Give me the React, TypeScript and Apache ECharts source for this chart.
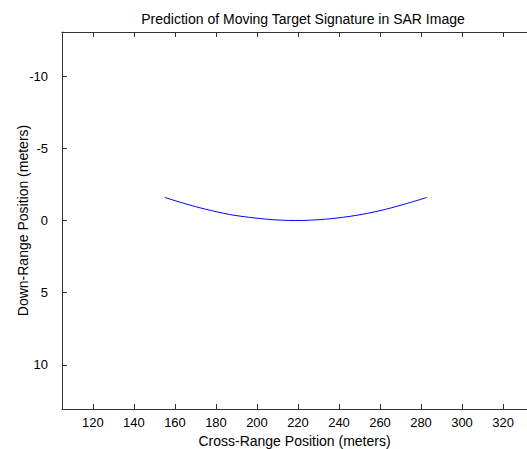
import React, { useEffect, useRef } from "react";
import * as echarts from "echarts";

const titleText = "Prediction of Moving Target Signature in SAR Image";
const xAxisName = "Cross-Range Position (meters)";
const yAxisName = "Down-Range Position (meters)";

const xTicks = [120, 140, 160, 180, 200, 220, 240, 260, 280, 300, 320];
const yTicks = [-10, -5, 0, 5, 10];

const crossRange = [155, 165, 175, 186.5, 194, 204, 212, 219, 226, 235.6, 247.8, 260, 271.2, 283];
const downRange = [-1.6, -1.16, -0.78, -0.42, -0.26, -0.1, -0.02, 0.0, -0.02, -0.12, -0.34, -0.68, -1.1, -1.6];

const FONT = "Liberation Sans, Arial, Helvetica, sans-serif";
const AXIS_COLOR = "#333";

export default function App() {
  const ref = useRef<HTMLDivElement>(null);
  useEffect(() => {
    if (!ref.current) return;
    const chart = echarts.init(ref.current, undefined, { renderer: "svg" });
    const data = crossRange.map((x, i) => [x, downRange[i]]);
    const tickCommon = { show: true, inside: true, length: 5, lineStyle: { color: AXIS_COLOR, width: 1 } };
    const lineCommon = { show: true, onZero: false, lineStyle: { color: AXIS_COLOR, width: 1 } };
    chart.setOption({
      animation: false,
      backgroundColor: "#fff",
      title: {
        text: titleText,
        left: 298,
        top: 7,
        textAlign: "center",
        textStyle: { fontFamily: FONT, fontSize: 14, fontWeight: "normal", color: "#000" },
      },
      grid: { left: 62, top: 32, right: 0, bottom: 40, containLabel: false, outerBoundsMode: "none" },
      xAxis: [
        {
          type: "value",
          position: "bottom",
          min: 104.9,
          max: 331.7,
          axisLine: lineCommon,
          axisTick: { ...tickCommon, customValues: xTicks },
          axisLabel: { customValues: xTicks, margin: 7, fontFamily: FONT, fontSize: 13, color: "#000" },
          splitLine: { show: false },
          name: xAxisName,
          nameLocation: "middle",
          nameGap: 25,
          nameMoveOverlap: false,
          nameTextStyle: { fontFamily: FONT, fontSize: 14, color: "#000" },
        },
        {
          type: "value",
          position: "top",
          min: 104.9,
          max: 331.7,
          axisLine: lineCommon,
          axisTick: { ...tickCommon, customValues: xTicks },
          axisLabel: { show: false },
          splitLine: { show: false },
        },
      ],
      yAxis: [
        {
          type: "value",
          inverse: true,
          min: -13.05,
          max: 13.05,
          axisLine: lineCommon,
          axisTick: { ...tickCommon, customValues: yTicks },
          axisLabel: { customValues: yTicks, margin: 14, fontFamily: FONT, fontSize: 13, color: "#000" },
          splitLine: { show: false },
          name: yAxisName,
          nameLocation: "middle",
          nameGap: 32,
          nameMoveOverlap: false,
          nameTextStyle: { fontFamily: FONT, fontSize: 14, color: "#000" },
        },
      ],
      series: [
        {
          type: "line",
          data,
          xAxisIndex: 0,
          yAxisIndex: 0,
          showSymbol: false,
          smooth: 0.3,
          lineStyle: { color: "#0000ff", width: 1 },
        },
      ],
    });
    return () => chart.dispose();
  }, []);
  return (
    <div
      ref={ref}
      style={{ position: "fixed", left: 0, top: 0, width: 527, height: 449, background: "#fff" }}
    />
  );
}
